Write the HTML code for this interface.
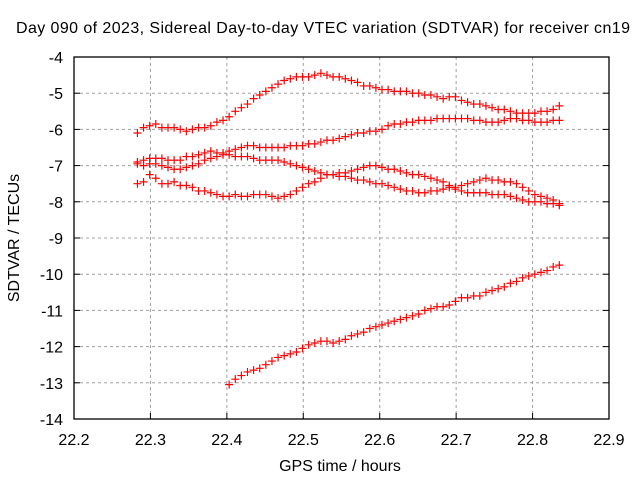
<!DOCTYPE html>
<html><head><meta charset="utf-8"><style>
html,body{margin:0;padding:0;background:#fff;}
svg{display:block;font-family:"Liberation Sans",sans-serif;}
</style></head><body>
<svg id="chart" width="640" height="480" viewBox="0 0 640 480">
<text x="16" y="33" font-size="16" textLength="614" lengthAdjust="spacing">Day 090 of 2023, Sidereal Day-to-day VTEC variation (SDTVAR) for receiver cn19</text>
<text x="340" y="471" font-size="16" text-anchor="middle">GPS time / hours</text>
<text transform="translate(19,238) rotate(-90)" font-size="16" text-anchor="middle">SDTVAR / TECUs</text>
<g id="grid"></g>
<g id="ticks"></g>
<g id="marks"></g>
<rect x="74" y="57" width="535" height="362" fill="none" stroke="#000" stroke-width="1.3"/>
</svg>
<script>
const xTicks = [22.2,22.3,22.4,22.5,22.6,22.7,22.8,22.9];
const xTickLabels = ["22.2","22.3","22.4","22.5","22.6","22.7","22.8","22.9"];
const yTicks = [-4,-5,-6,-7,-8,-9,-10,-11,-12,-13,-14];
const yTickLabels = ["-4","-5","-6","-7","-8","-9","-10","-11","-12","-13","-14"];
const times = [22.283,22.291,22.299,22.307,22.315,22.323,22.331,22.339,22.347,22.355,22.363,22.371,22.379,22.387,22.395,22.403,22.411,22.419,22.427,22.435,22.443,22.451,22.459,22.467,22.475,22.483,22.491,22.499,22.507,22.515,22.523,22.531,22.539,22.547,22.555,22.563,22.571,22.579,22.587,22.595,22.603,22.611,22.619,22.627,22.635,22.643,22.651,22.659,22.667,22.675,22.683,22.691,22.699,22.707,22.715,22.723,22.731,22.739,22.747,22.755,22.763,22.771,22.779,22.787,22.795,22.803,22.811,22.819,22.827,22.835];
const seriesA = [-6.1,-5.95,-5.9,-5.85,-5.95,-5.95,-5.95,-6.0,-6.05,-6.0,-5.95,-5.95,-5.9,-5.8,-5.75,-5.65,-5.5,-5.4,-5.3,-5.15,-5.05,-4.95,-4.85,-4.75,-4.65,-4.6,-4.55,-4.55,-4.55,-4.5,-4.45,-4.5,-4.55,-4.55,-4.6,-4.65,-4.7,-4.8,-4.8,-4.85,-4.9,-4.9,-4.95,-4.95,-4.95,-5.0,-5.0,-5.05,-5.05,-5.1,-5.15,-5.1,-5.1,-5.2,-5.25,-5.3,-5.3,-5.35,-5.4,-5.45,-5.45,-5.5,-5.55,-5.55,-5.55,-5.55,-5.5,-5.5,-5.45,-5.35];
const seriesB = [-6.9,-6.85,-6.8,-6.8,-6.8,-6.85,-6.85,-6.85,-6.75,-6.75,-6.7,-6.65,-6.6,-6.65,-6.65,-6.6,-6.55,-6.5,-6.45,-6.45,-6.5,-6.5,-6.5,-6.5,-6.5,-6.45,-6.45,-6.45,-6.4,-6.4,-6.35,-6.3,-6.3,-6.25,-6.2,-6.15,-6.1,-6.1,-6.05,-6.05,-6.0,-5.9,-5.85,-5.85,-5.8,-5.8,-5.75,-5.75,-5.75,-5.7,-5.7,-5.7,-5.7,-5.7,-5.7,-5.75,-5.75,-5.8,-5.8,-5.8,-5.75,-5.7,-5.7,-5.75,-5.75,-5.8,-5.8,-5.8,-5.75,-5.75];
const seriesC = [-6.95,-7.0,-6.95,-6.95,-7.0,-7.05,-7.1,-7.1,-7.05,-7.0,-6.95,-6.85,-6.8,-6.75,-6.7,-6.7,-6.75,-6.75,-6.75,-6.8,-6.85,-6.85,-6.85,-6.85,-6.9,-6.95,-7.0,-7.05,-7.1,-7.15,-7.2,-7.25,-7.25,-7.3,-7.3,-7.35,-7.4,-7.4,-7.45,-7.5,-7.5,-7.55,-7.6,-7.65,-7.7,-7.7,-7.75,-7.75,-7.7,-7.7,-7.65,-7.6,-7.65,-7.7,-7.75,-7.75,-7.75,-7.75,-7.8,-7.8,-7.8,-7.85,-7.9,-7.95,-8.0,-8.0,-8.0,-8.05,-8.05,-8.1];
const seriesD = [-7.5,-7.45,-7.25,-7.35,-7.5,-7.5,-7.45,-7.55,-7.55,-7.6,-7.7,-7.7,-7.75,-7.8,-7.85,-7.85,-7.8,-7.85,-7.85,-7.8,-7.8,-7.8,-7.85,-7.9,-7.85,-7.8,-7.7,-7.6,-7.5,-7.45,-7.35,-7.25,-7.25,-7.2,-7.2,-7.15,-7.1,-7.05,-7.0,-7.0,-7.05,-7.1,-7.1,-7.15,-7.2,-7.25,-7.25,-7.3,-7.35,-7.4,-7.45,-7.55,-7.6,-7.55,-7.5,-7.45,-7.4,-7.35,-7.4,-7.4,-7.45,-7.45,-7.5,-7.6,-7.7,-7.8,-7.85,-7.9,-7.95,-8.05];
const seriesEStart = 15;
const seriesE = [-13.05,-12.9,-12.8,-12.7,-12.65,-12.6,-12.5,-12.4,-12.3,-12.25,-12.2,-12.15,-12.05,-11.95,-11.9,-11.85,-11.85,-11.9,-11.85,-11.8,-11.7,-11.65,-11.6,-11.5,-11.45,-11.4,-11.35,-11.3,-11.25,-11.2,-11.15,-11.1,-11.0,-10.95,-10.9,-10.9,-10.85,-10.75,-10.65,-10.65,-10.6,-10.6,-10.5,-10.45,-10.4,-10.35,-10.25,-10.2,-10.1,-10.05,-10.0,-9.95,-9.9,-9.8,-9.75];

const NS='http://www.w3.org/2000/svg';
const L=74,R=609,T=57,B=419;
const xs=v=>L+(v-22.2)/(22.9-22.2)*(R-L);
const ys=v=>T+(-4-v)/10*(B-T);
function mk(tag,attrs,parent){const e=document.createElementNS(NS,tag);for(const k in attrs)e.setAttribute(k,attrs[k]);parent.appendChild(e);return e;}
const grid=document.getElementById('grid'),ticks=document.getElementById('ticks'),marks=document.getElementById('marks');
xTicks.forEach((v,i)=>{
  const x=xs(v);
  if(i>0&&i<xTicks.length-1){const g=mk('line',{x1:x,x2:x,y1:T,y2:B,stroke:'#a0a0a0','stroke-dasharray':'3,3'},grid);
  
  }
  const t=mk('line',{x1:x,x2:x,y1:B,y2:B-6,stroke:'#000'},ticks);
  
  
  const lb=mk('text',{x:x,y:B+26,'font-size':16,'text-anchor':'middle'},ticks);
  lb.textContent=xTickLabels[i];
  
  
});
yTicks.forEach((v,i)=>{
  const y=ys(v);
  if(i>0&&i<yTicks.length-1){const g=mk('line',{x1:L,x2:R,y1:y,y2:y,stroke:'#a0a0a0','stroke-dasharray':'3,3'},grid);
  
  }
  const t=mk('line',{x1:L,x2:L+6,y1:y,y2:y,stroke:'#000'},ticks);
  
  
  const t2=mk('line',{x1:R,x2:R-6,y1:y,y2:y,stroke:'#000'},ticks);
  
  
  const lb=mk('text',{x:L-11,y:y+6,'font-size':16,'text-anchor':'end'},ticks);
  lb.textContent=yTickLabels[i];
  
  
});
function plot(vals,start,name){
  const g=mk('g',{},marks);
  
  
  for(let i=0;i<vals.length&&start+i<times.length;i++){
    const x=xs(times[start+i]),y=ys(vals[i]);
    const p=mk('path',{d:`M${x-4},${y}H${x+4}M${x},${y-4}V${y+4}`,stroke:'#ff0000','stroke-width':1.2,fill:'none'},g);
    
    
  }
}
plot(seriesA,0,'series-a');
plot(seriesB,0,'series-b');
plot(seriesC,0,'series-c');
plot(seriesD,0,'series-d');
plot(seriesE,seriesEStart,'series-e');
</script>
</body></html>
